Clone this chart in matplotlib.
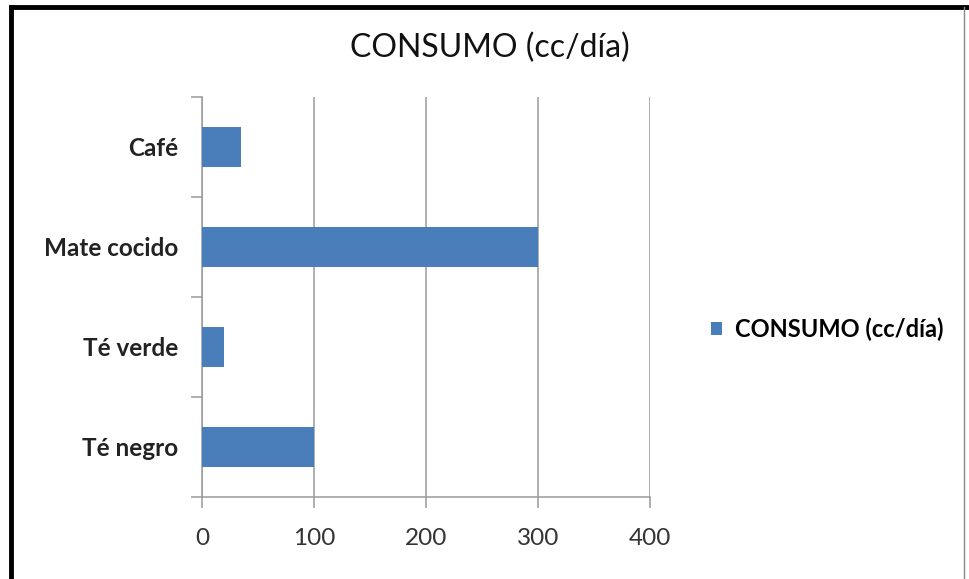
import matplotlib.pyplot as plt
from matplotlib.lines import Line2D

# consumo diario de cada bebida
bebidas = ['Café', 'Mate cocido', 'Té verde', 'Té negro']
consumo = [35, 300, 20, 100]
xticks = [0, 100, 200, 300, 400]
serie = 'CONSUMO (cc/día)'

azul = '#4a7ebb'
gris = '#9a9a9a'
fuente = ['Lato', 'DejaVu Sans']

fig = plt.figure(figsize=(9.7, 5.79), dpi=100)
ax = fig.add_axes([202 / 970, 1 - 497 / 579, 448 / 970, 400 / 579])

pos = list(range(len(bebidas)))[::-1]  # Café arriba
ax.barh(pos, consumo, height=0.4, color=azul, label=serie, zorder=3)

ax.set_xlim(0, 400)
ax.set_ylim(-0.5, len(bebidas) - 0.5)
ax.set_xticks(xticks)
ax.set_xticklabels([str(v) for v in xticks], fontsize=17.5, color='#333333',
                   family=fuente)
ax.xaxis.grid(True, color=gris, lw=1.1, zorder=0)

# marcas del eje de categorías entre barras, etiquetas en el centro
ax.set_yticks([p - 0.5 for p in range(len(bebidas) + 1)])
ax.set_yticklabels([])
ax.set_yticks(pos, minor=True)
ax.set_yticklabels(bebidas, minor=True, fontsize=17.5, fontweight='bold',
                   color='#222222', family=fuente)
ax.tick_params(axis='y', which='minor', length=0, pad=17)
ax.tick_params(axis='y', which='major', length=8, width=1.1, color=gris)
ax.tick_params(axis='x', length=8, width=1.1, color=gris, pad=14)

for s in ['top', 'right']:
    ax.spines[s].set_visible(False)
for s in ['left', 'bottom']:
    ax.spines[s].set_color(gris)
    ax.spines[s].set_linewidth(1.1)

fig.text(490 / 970, 1 - 48 / 579, serie, ha='center', va='center',
         fontsize=23, color='#111111', family=fuente)

fig.legend(loc='center left', bbox_to_anchor=(690 / 970, 1 - 329 / 579),
           frameon=False, handlelength=0.45, handleheight=0.45,
           handletextpad=0.55,
           prop={'family': fuente, 'weight': 'bold', 'size': 17})

# marco del gráfico
fig.add_artist(Line2D([11 / 970, 11 / 970], [0, 1 - 7 / 579], color='black', lw=3.5))
fig.add_artist(Line2D([11 / 970, 1], [1 - 7 / 579, 1 - 7 / 579], color='black', lw=3.5))
fig.add_artist(Line2D([964 / 970, 964 / 970], [0, 1 - 7 / 579], color='#888888', lw=1))

fig.savefig('out.png', dpi=100, facecolor='white')
